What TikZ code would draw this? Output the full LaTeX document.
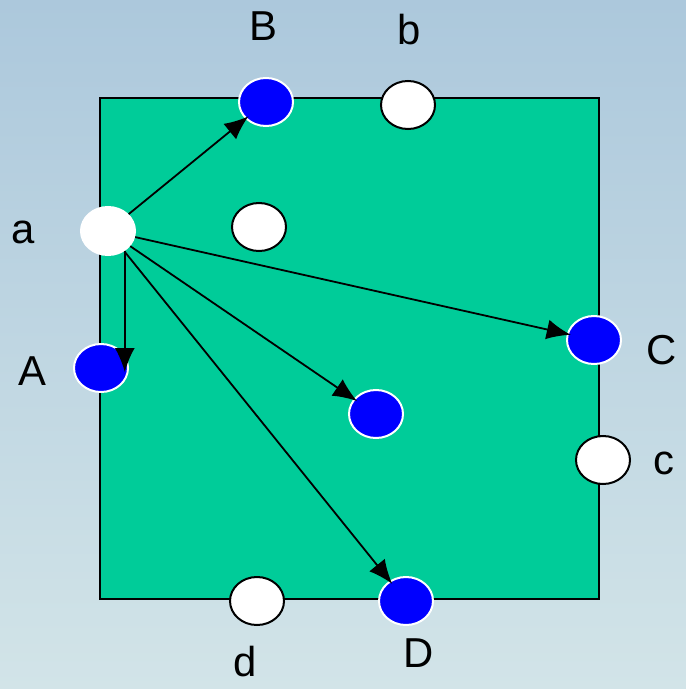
\documentclass[tikz,border=0pt]{standalone}
\usepackage{fontspec}
\setmainfont{Liberation Sans}
\usetikzlibrary{shapes.geometric, arrows.meta}
\definecolor{skytop}{RGB}{172,200,220}
\definecolor{skybottom}{RGB}{210,228,232}
\definecolor{field}{RGB}{0,204,153}
\definecolor{spot}{RGB}{0,0,255}
\tikzset{
  font=\fontsize{21}{25}\selectfont,
  baseoval/.style={
    ellipse, line width=1bp, inner sep=0pt,
    minimum width=27bp, minimum height=24bp
  },
  blueoval/.style={baseoval, draw=white, fill=spot},
  whiteoval/.style={baseoval, draw=black, fill=white},
  sourceoval/.style={baseoval, draw=white, fill=white},
  fieldbox/.style={
    rectangle, draw=black, fill=field, line width=1bp,
    minimum width=249.5bp, minimum height=250.5bp, inner sep=0pt
  },
  letter/.style={inner sep=0pt},
  flowline/.style={
    draw=black, -{Latex[length=12bp, width=10bp]}, line width=0.9bp,
    shorten >=-2bp
  }
}
\begin{document}
\begin{tikzpicture}[x=0.5bp, y=-0.5bp]
  % background
  \useasboundingbox (0,0) rectangle (686,689);
  \shade[top color=skytop, bottom color=skybottom] (0,0) rectangle (686,689);

  % the square field
  \node[fieldbox] (field) at (349.5,348.5) {};

  % points on and in the field
  \node[sourceoval] (a) at (108,231) {};
  \node[blueoval] (B) at (266,102) {};
  \node[whiteoval] (b) at (408,105) {};
  \node[whiteoval] (inner) at (259,227) {};
  \node[blueoval] (A) at (101,368) {};
  \node[blueoval] (C) at (594,340) {};
  \node[blueoval] (mid) at (376,414) {};
  \node[whiteoval] (c) at (603,460) {};
  \node[whiteoval] (d) at (257,601) {};
  \node[blueoval] (D) at (406,601) {};

  % labels
  \node[letter] (lbla) at (23,232) {a};
  \node[letter] (lblB) at (263,26) {B};
  \node[letter] (lblb) at (409,30) {b};
  \node[letter] (lblA) at (32,371) {A};
  \node[letter] (lblC) at (662,350) {C};
  \node[letter] (lblc) at (664,463) {c};
  \node[letter] (lbld) at (245,662) {d};
  \node[letter] (lblD) at (419,653) {D};

  % arrows from a
  \draw[flowline] (a) -- (B);
  \draw[flowline] (a.-50) -- (a.-50 |- A.center);
  \draw[flowline] (a) -- (C);
  \draw[flowline] (a) -- (mid);
  \draw[flowline] (a) -- (D);
\end{tikzpicture}
\end{document}
